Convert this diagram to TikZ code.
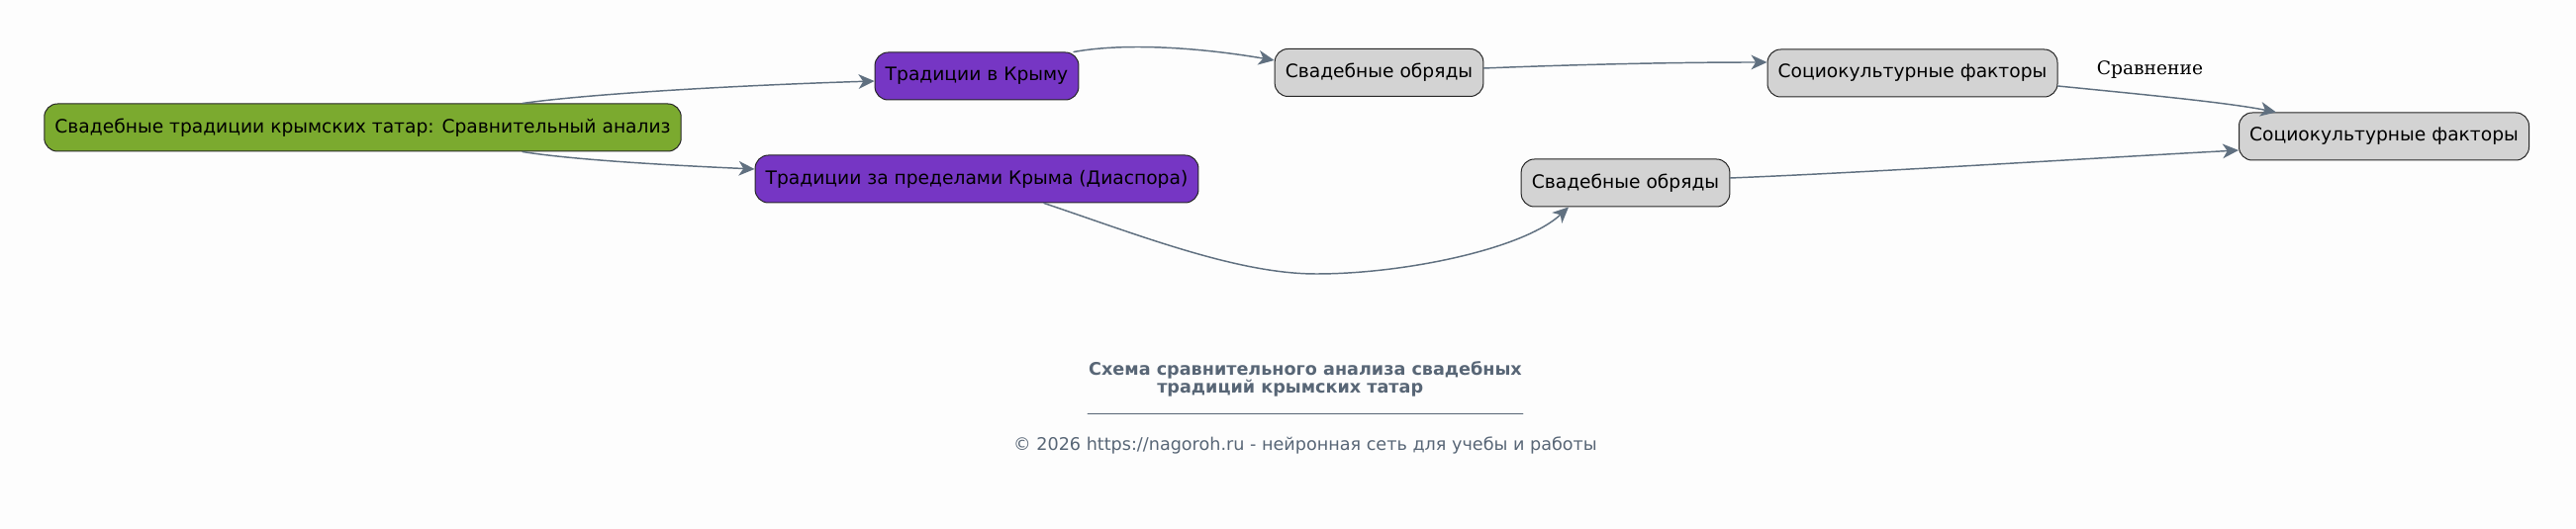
\documentclass[tikz,border=0pt]{standalone}
\usepackage{fontspec}
\setmainfont{DejaVu Sans}
\newfontfamily\edgelabelfont{DejaVu Serif}
\usetikzlibrary{arrows.meta, calc}

\definecolor{rootgreen}{RGB}{123,170,47}
\definecolor{branchviolet}{RGB}{118,54,196}
\definecolor{leafgray}{RGB}{211,211,211}
\definecolor{edgeslate}{RGB}{96,112,128}
\definecolor{captionslate}{RGB}{88,102,118}
\definecolor{paper}{RGB}{253,253,253}

\begin{document}
\begin{tikzpicture}[x=0.75pt, y=0.75pt, >={Stealth[length=12pt,width=11pt,inset=3.5pt]},
    line cap=round, line join=round,
    box/.style={draw=black!85, line width=0.75pt, rounded corners=10pt, minimum height=36pt,
      inner xsep=8pt, text=black, font=\fontsize{14}{16}\selectfont},
    link/.style={->, draw=edgeslate, line width=1.1pt},
    edgelabel/.style={font=\edgelabelfont\fontsize{14}{16}\selectfont, text=black},
    caption/.style={text=captionslate, align=center, font=\bfseries\fontsize{13.2}{13.5}\selectfont},
    credit/.style={text=captionslate, font=\fontsize{13.2}{15}\selectfont}]
    % page
    \fill[paper] (0,0) rectangle (2603,535);
    \useasboundingbox (0,0) rectangle (2603,535);

    % nodes
    \node[box, fill=rootgreen] (root) at (366.5,406) {Свадебные традиции крымских татар: Сравнительный анализ};
    \node[box, fill=branchviolet] (crimea) at (987,458) {Традиции в Крыму};
    \node[box, fill=branchviolet] (diaspora) at (987,354) {Традиции за пределами Крыма (Диаспора)};
    \node[box, fill=leafgray] (ritesA) at (1393.5,461.5) {Свадебные обряды};
    \node[box, fill=leafgray] (socioA) at (1932.5,461) {Социокультурные факторы};
    \node[box, fill=leafgray] (ritesB) at (1642.5,350) {Свадебные обряды};
    \node[box, fill=leafgray] (socioB) at (2409,397) {Социокультурные факторы};

    % edges
    \draw[link] ($(root.north)+(161.5,0)$) .. controls +(70,10) and +(-130,-4) .. ($(crimea.west)+(0,-5)$);
    \draw[link] ($(root.south)+(161.5,0)$) .. controls +(50,-8) and +(-90,4) .. ($(diaspora.west)+(0,10)$);
    \draw[link] ($(crimea.north)+(98,0)$) .. controls +(55,10) and +(-70,12) .. ($(ritesA.west)+(0,12.5)$);
    \draw[link] ($(ritesA.east)+(0,4.5)$) .. controls +(100,4) and +(-90,0) .. ($(socioA.west)+(0,11)$);
    \draw[link] ($(socioA.east)+(0,-13)$) .. controls +(80,-8) and +(-50,10) .. ($(socioB.north)+(-109,0)$)
      node[edgelabel, pos=0.38, above=9pt] (compare) {Сравнение};
    \coordinate (dip) at (1330,258);
    \draw[link] ($(diaspora.south)+(68,0)$) .. controls +(95,-32) and +(-80,0) .. (dip)
      .. controls +(90,0) and +(-45,-42) .. ($(ritesB.south)+(-57.5,0)$);
    \draw[link] ($(ritesB.east)+(0,5)$) .. controls +(150,6) and +(-150,-8) .. ($(socioB.west)+(0,-14)$);

    % caption
    \node[caption] (heading) at (1319,152) {Схема сравнительного анализа свадебных\\традиций крымских татар\hphantom{\ \ \ \ \ }};
    \draw[captionslate, line width=0.6pt] (1099,117) -- (1539,117);
    \node[credit] (footer) at (1319,85) {© 2026 https://nagoroh.ru - нейронная сеть для учебы и работы};
\end{tikzpicture}
\end{document}
